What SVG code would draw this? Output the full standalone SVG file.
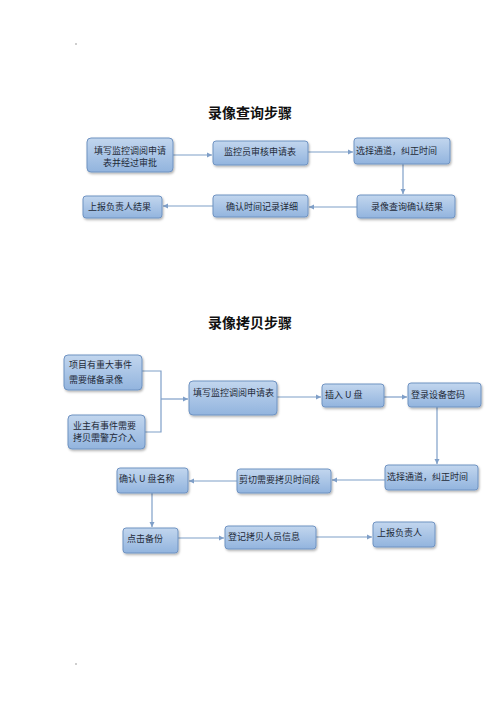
<svg xmlns="http://www.w3.org/2000/svg" width="500" height="708" viewBox="0 0 500 708">
<style>
.title{font-family:"Noto Sans CJK SC","Liberation Sans",sans-serif;font-size:14px;font-weight:bold;fill:#111;text-anchor:middle}
.box{fill:url(#g);stroke:#6f93c2;stroke-width:1;filter:url(#sh)}
.t{font-family:"Noto Sans CJK SC","Liberation Serif",serif;font-size:9px;fill:#1e2a38}
.c{text-anchor:middle}
.ln{fill:none;stroke:#7f9fc8;stroke-width:1.2}
.ar{fill:none;stroke:#7f9fc8;stroke-width:1.2;marker-end:url(#ah)}
</style>
<defs>
<linearGradient id="g" x1="0" y1="0" x2="0" y2="1">
<stop offset="0" stop-color="#c2d6ee"/>
<stop offset="1" stop-color="#92b4de"/>
</linearGradient>
<filter id="sh" x="-10%" y="-20%" width="130%" height="150%">
<feDropShadow dx="1" dy="1.5" stdDeviation="1" flood-color="#000" flood-opacity="0.3"/>
</filter>
<marker id="ah" markerWidth="6" markerHeight="6" refX="5" refY="3" orient="auto" markerUnits="userSpaceOnUse">
<path d="M0,0.5 L5,3 L0,5.5 Z" fill="#7f9fc8"/>
</marker>
</defs>
<rect width="500" height="708" fill="#fff"/>
<circle cx="76" cy="44" r="0.7" fill="#777"/>
<circle cx="76" cy="664" r="0.7" fill="#777"/>

<text class="title" x="250" y="118">录像查询步骤</text>
<text class="title" x="250" y="328">录像拷贝步骤</text>

<g id="connectors">
<path class="ar" d="M173,155 H212"/>
<path class="ar" d="M308,152 H353"/>
<path class="ar" d="M403,164 V194"/>
<path class="ar" d="M357,207 H309"/>
<path class="ar" d="M213,206 H163"/>
<path class="ln" d="M142,371 H161 V432 H145"/>
<path class="ar" d="M161,399 H188"/>
<path class="ar" d="M277,397 H321"/>
<path class="ar" d="M384,397 H407"/>
<path class="ar" d="M437,407 V464"/>
<path class="ar" d="M385,480 H332"/>
<path class="ar" d="M237,481 H189"/>
<path class="ar" d="M152,493 V527"/>
<path class="ar" d="M178,538 H224"/>
<path class="ar" d="M316,537 H372"/>
</g>

<g id="q1"><rect class="box" x="87" y="138" width="86" height="34" rx="4"/><text class="t c" x="130" y="153.5">填写监控调阅申请</text><text class="t c" x="130" y="165.5">表并经过审批</text></g>
<g id="q2"><rect class="box" x="213" y="141" width="95" height="24" rx="3"/><text class="t c" x="260" y="155">监控员审核申请表</text></g>
<g id="q3"><rect class="box" x="354" y="138" width="96" height="26" rx="3"/><text class="t" x="356" y="153.5">选择通道，纠正时间</text></g>
<g id="q4"><rect class="box" x="357" y="195" width="98" height="23" rx="3"/><text class="t c" x="407" y="210">录像查询确认结果</text></g>
<g id="q5"><rect class="box" x="213" y="195" width="95" height="22" rx="3"/><text class="t c" x="262" y="210">确认时间记录详细</text></g>
<g id="q6"><rect class="box" x="83" y="196" width="79" height="22" rx="3"/><text class="t" x="88" y="210">上报负责人结果</text></g>

<g id="c1"><rect class="box" x="64" y="355" width="78" height="35" rx="4"/><text class="t" x="69" y="368">项目有重大事件</text><text class="t" x="69" y="383">需要储备录像</text></g>
<g id="c2"><rect class="box" x="68" y="415" width="77" height="34" rx="4"/><text class="t" x="73" y="429">业主有事件需要</text><text class="t" x="73" y="441">拷贝需警方介入</text></g>
<g id="c3"><rect class="box" x="189" y="381" width="88" height="34" rx="4"/><text class="t" x="193" y="396">填写监控调阅申请表</text></g>
<g id="c4"><rect class="box" x="322" y="384" width="62" height="23" rx="3"/><text class="t" x="325" y="398">插入 U 盘</text></g>
<g id="c5"><rect class="box" x="408" y="383" width="73" height="24" rx="3"/><text class="t" x="411" y="398">登录设备密码</text></g>
<g id="c6"><rect class="box" x="385" y="465" width="93" height="25" rx="3"/><text class="t" x="387" y="480">选择通道，纠正时间</text></g>
<g id="c7"><rect class="box" x="237" y="469" width="94" height="24" rx="3"/><text class="t" x="239" y="483">剪切需要拷贝时间段</text></g>
<g id="c8"><rect class="box" x="117" y="468" width="71" height="25" rx="3"/><text class="t" x="119" y="482">确认 U 盘名称</text></g>
<g id="c9"><rect class="box" x="123" y="528" width="55" height="25" rx="3"/><text class="t" x="127" y="542">点击备份</text></g>
<g id="c10"><rect class="box" x="225" y="526" width="91" height="23" rx="3"/><text class="t" x="228" y="540">登记拷贝人员信息</text></g>
<g id="c11"><rect class="box" x="373" y="522" width="62" height="25" rx="3"/><text class="t" x="377" y="536">上报负责人</text></g>
</svg>
